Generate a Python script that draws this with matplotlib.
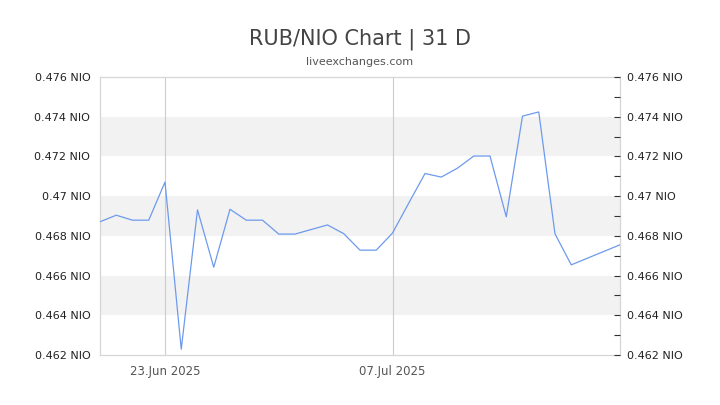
import matplotlib
matplotlib.use("Agg")
import matplotlib.pyplot as plt
import datetime as dt

dates = ["2025-06-19", "2025-06-20", "2025-06-21", "2025-06-22", "2025-06-23",
         "2025-06-24", "2025-06-25", "2025-06-26", "2025-06-27", "2025-06-28",
         "2025-06-29", "2025-06-30", "2025-07-01", "2025-07-02", "2025-07-03",
         "2025-07-04", "2025-07-05", "2025-07-06", "2025-07-07", "2025-07-08",
         "2025-07-09", "2025-07-10", "2025-07-11", "2025-07-12", "2025-07-13",
         "2025-07-14", "2025-07-15", "2025-07-16", "2025-07-17", "2025-07-18",
         "2025-07-21"]
rates = [0.46871, 0.46904, 0.46879, 0.46879, 0.47071,
         0.46229, 0.46931, 0.46642, 0.46934, 0.46879,
         0.46879, 0.46809, 0.46809, 0.46832, 0.46855,
         0.46811, 0.46728, 0.46728, 0.46814, 0.46965,
         0.47114, 0.47096, 0.47141, 0.47202, 0.47202,
         0.46896, 0.47403, 0.47424, 0.46810, 0.46654,
         0.46755]
y_ticks = [0.462, 0.464, 0.466, 0.468, 0.470, 0.472, 0.474, 0.476]
y_labels = ["0.462 NIO", "0.464 NIO", "0.466 NIO", "0.468 NIO", "0.47 NIO",
            "0.472 NIO", "0.474 NIO", "0.476 NIO"]
minor_ticks = [0.463, 0.465, 0.467, 0.469, 0.471, 0.473, 0.475]
x_tick_dates = ["2025-06-23", "2025-07-07"]
x_tick_labels = ["23.Jun 2025", "07.Jul 2025"]
title = "RUB/NIO Chart | 31 D"
subtitle = "liveexchanges.com"

plt.rcParams['font.family'] = ['DejaVu Sans']

d = [dt.datetime.strptime(s, "%Y-%m-%d") for s in dates]
xt = [dt.datetime.strptime(s, "%Y-%m-%d") for s in x_tick_dates]

fig = plt.figure(figsize=(7.2, 4.05), dpi=100)
ax = fig.add_axes([100/720, 50/405, 520/720, 278/405])

ymin, ymax = y_ticks[0], y_ticks[-1]
for i in range(len(y_ticks) - 1):
    if i % 2 == 1:
        ax.axhspan(y_ticks[i], y_ticks[i + 1], color="#f2f2f2", lw=0, zorder=0)

for x in xt:
    ax.axvline(x, color="#cccccc", lw=0.8, zorder=1)

ax.plot(d, rates, color="#6d9aee", lw=0.9, zorder=3)

ax.set_xlim(d[0], d[-1])
ax.set_ylim(ymin, ymax)

for s in ax.spines.values():
    s.set_color("#d6d6d6")
    s.set_linewidth(0.9)

ax.set_yticks(y_ticks)
ax.set_yticklabels(y_labels)
ax.tick_params(axis="y", length=0, labelsize=8, labelcolor="#222222", pad=7)
ax.set_xticks(xt)
ax.set_xticklabels(x_tick_labels)
ax.tick_params(axis="x", length=0, labelsize=8.5, labelcolor="#555555", pad=7)

ax2 = ax.twinx()
ax2.set_ylim(ymin, ymax)
ax2.set_yticks(y_ticks)
ax2.set_yticklabels(y_labels)
ax2.set_yticks(minor_ticks, minor=True)
ax2.tick_params(axis="y", which="both", direction="in", length=4, color="#333333",
                width=0.8, labelsize=8, labelcolor="#222222", pad=5)
for s in ax2.spines.values():
    s.set_visible(False)

fig.text(0.5, 1 - 39/405, title, ha="center", va="center", fontsize=15, color="#444444")
fig.text(0.5, 1 - 62/405, subtitle, ha="center", va="center", fontsize=8, color="#555555")

fig.savefig("out.png", dpi=100)
